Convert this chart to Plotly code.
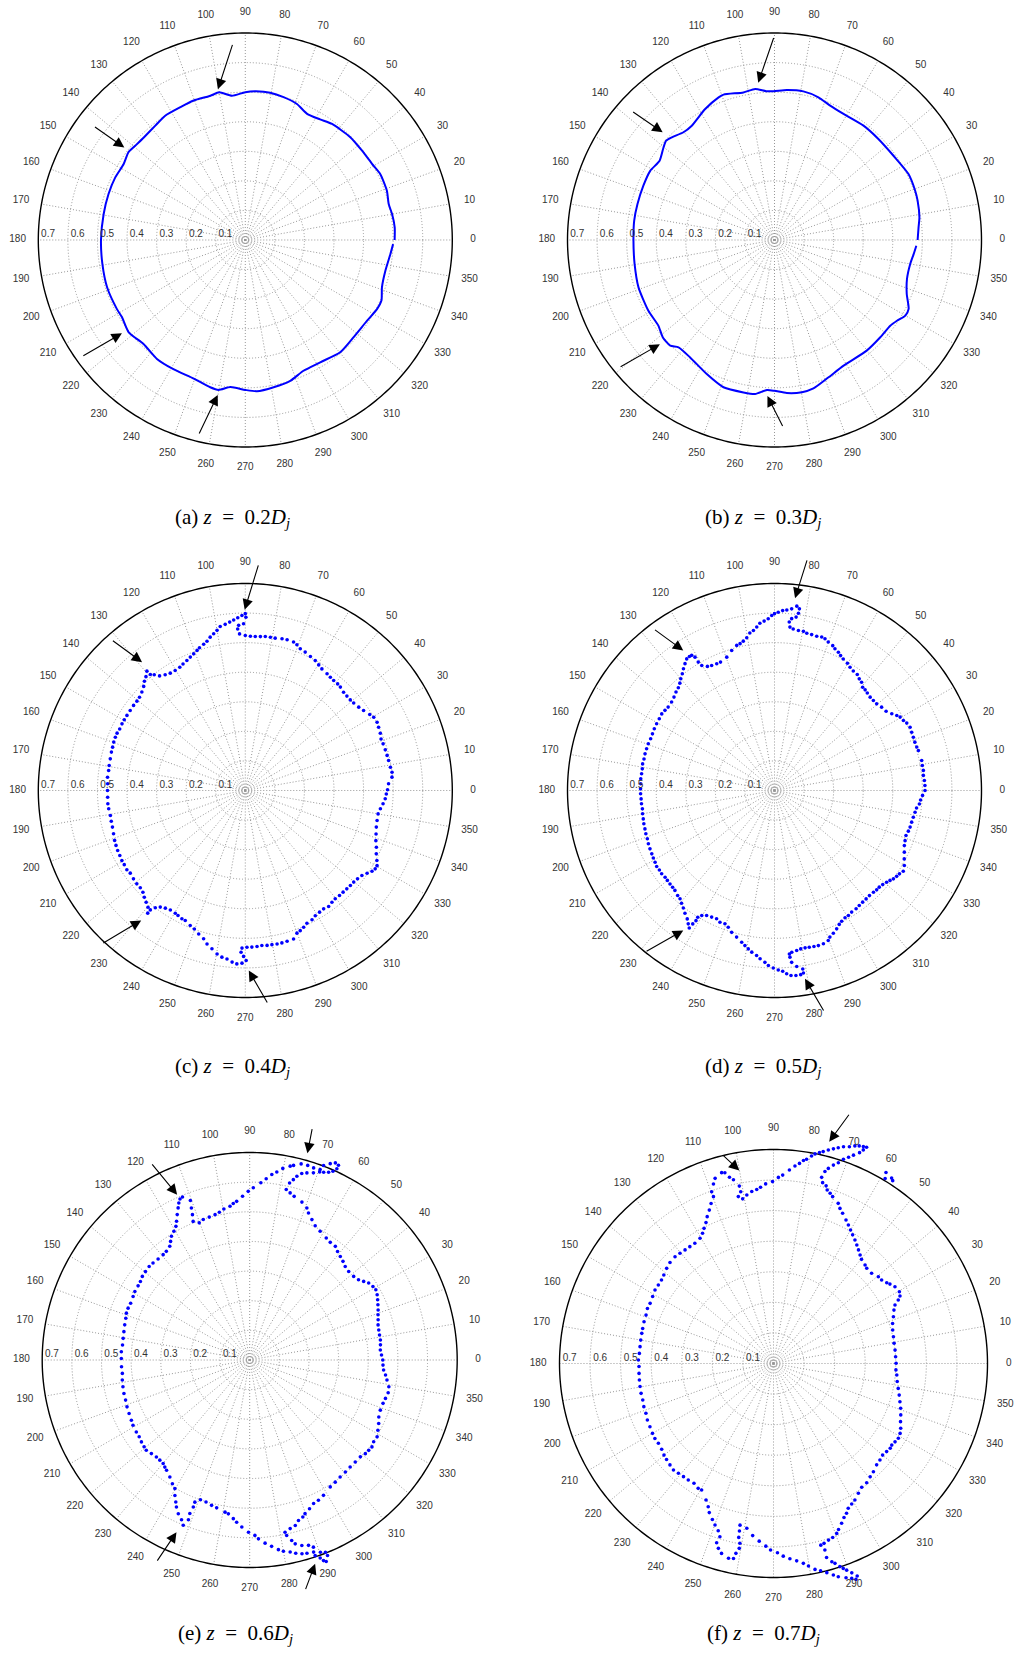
import math
import plotly.graph_objects as go

W, H = 1017, 1653
R_MAX = 0.7      # outer ring of every polar frame
R_VIEW = 0.79    # radial range kept visible so labels and outlying points show

# ---------------------------------------------------------------- axes / text
ANGLE_TICKS = list(range(0, 360, 10))
RADIAL_TICKS = [0.1, 0.2, 0.3, 0.4, 0.5, 0.6, 0.7]
CAPTIONS = [
    "(a) <i>z</i>&nbsp;&nbsp;=&nbsp;&nbsp;0.2<i>D<sub>j</sub></i>",
    "(b) <i>z</i>&nbsp;&nbsp;=&nbsp;&nbsp;0.3<i>D<sub>j</sub></i>",
    "(c) <i>z</i>&nbsp;&nbsp;=&nbsp;&nbsp;0.4<i>D<sub>j</sub></i>",
    "(d) <i>z</i>&nbsp;&nbsp;=&nbsp;&nbsp;0.5<i>D<sub>j</sub></i>",
    "(e) <i>z</i>&nbsp;&nbsp;=&nbsp;&nbsp;0.6<i>D<sub>j</sub></i>",
    "(f) <i>z</i>&nbsp;&nbsp;=&nbsp;&nbsp;0.7<i>D<sub>j</sub></i>",
]

# ---------------------------------------------------------------- boundary data
# (a) z = 0.2 Dj, continuous boundary
TH_A = [0, 4.8, 10, 14.1, 19.2, 26, 31, 37.4, 44.4, 53.2, 58.2, 63.9, 69.2, 75, 80.4, 85.9,
        90, 95.3, 100, 103.6, 110.3, 116, 122.8, 128.2, 134.7, 139.4, 143.1, 148, 154.3,
        161.4, 169.6, 180, 189.5, 198.9, 208.3, 212, 218.4, 225.6, 233.4, 240.9, 249.6,
        256.6, 259.9, 264.2, 270, 274.4, 280.9, 287.7, 294, 301.5, 310.2, 318, 326.5,
        332.3, 336, 340.9, 347.6, 354.5, 358.4]
R_A = [0.505, 0.507, 0.504, 0.500, 0.507, 0.508, 0.500, 0.497, 0.497, 0.490, 0.480, 0.475,
       0.492, 0.500, 0.505, 0.504, 0.500, 0.490, 0.507, 0.502, 0.503, 0.500, 0.500, 0.492,
       0.488, 0.490, 0.494, 0.485, 0.488, 0.488, 0.487, 0.488, 0.490, 0.494, 0.493, 0.492,
       0.503, 0.492, 0.501, 0.500, 0.500, 0.512, 0.515, 0.500, 0.507, 0.513, 0.507, 0.500,
       0.484, 0.485, 0.497, 0.492, 0.494, 0.503, 0.504, 0.489, 0.485, 0.493, 0.500]

# (b) z = 0.3 Dj, continuous boundary
TH_B = [0, 5, 8.9, 15.4, 19.3, 26.2, 35.3, 44.2, 52.1, 61.3, 67.5, 72.9, 79, 85.3, 90.4,
        93.2, 97.3, 101.9, 109.3, 111.4, 117.9, 125.9, 130.2, 135, 137.5, 140.1, 145.4,
        150.9, 157.5, 165.3, 172.2, 180, 189.7, 199.2, 209.3, 216.4, 221.1, 225.4, 228.2,
        234.3, 243.2, 250.9, 258.5, 262.8, 267.1, 270, 274.6, 280.2, 284.7, 291.5, 298.8,
        309.8, 317.4, 323.5, 326.6, 330, 332.8, 337.8, 343.6, 350, 354.2, 357.7]
R_B = [0.484, 0.489, 0.496, 0.502, 0.504, 0.505, 0.493, 0.490, 0.490, 0.486, 0.492, 0.505,
       0.512, 0.509, 0.503, 0.504, 0.515, 0.510, 0.521, 0.518, 0.501, 0.477, 0.477, 0.491,
       0.497, 0.489, 0.472, 0.481, 0.480, 0.479, 0.479, 0.477, 0.480, 0.487, 0.489, 0.488,
       0.501, 0.502, 0.487, 0.489, 0.508, 0.527, 0.526, 0.525, 0.508, 0.510, 0.519, 0.523,
       0.519, 0.499, 0.485, 0.487, 0.486, 0.487, 0.496, 0.511, 0.510, 0.483, 0.467, 0.466,
       0.473, 0.480]

# (c) z = 0.4 Dj, sampled boundary points
TH_C = [0.3, 2.7, 5.2, 7.1, 9.1, 11.8, 13.9, 16.2, 18.7, 20.8,
        23.0, 25.4, 27.4, 29.7, 31.4, 34.1, 36.3, 38.9, 40.8, 42.9,
        45.0, 47.4, 49.1, 51.2, 53.1, 55.0, 57.8, 59.7, 61.7, 64.1,
        66.6, 68.8, 70.5, 72.0, 74.5, 76.4, 78.9, 80.7, 82.6, 84.4,
        86.3, 88.1, 90.0, 92.1, 92.7, 92.3, 90.6, 89.8, 90.0, 91.1,
        92.5, 93.9, 95.3, 96.9, 98.7, 100.0, 101.4, 102.9, 104.4, 105.9,
        107.8, 109.0, 110.7, 112.4, 114.2, 116.2, 118.0, 120.3, 122.6, 124.7,
        126.8, 128.2, 129.3, 129.5, 131.1, 132.7, 134.3, 136.4, 138.6, 140.5,
        142.7, 145.2, 147.6, 149.7, 151.6, 153.9, 155.9, 157.7, 159.8, 161.9,
        164.0, 166.8, 169.6, 171.7, 174.5, 177.2, 180.0, 182.8, 185.5, 187.6,
        190.5, 192.9, 195.4, 198.2, 200.9, 203.0, 205.2, 207.4, 209.6, 211.5,
        213.8, 215.7, 218.3, 220.7, 222.8, 224.8, 226.6, 228.4, 230.2, 231.5,
        231.5, 232.5, 233.9, 235.8, 237.9, 240.3, 241.7, 243.7, 245.2, 247.8,
        249.8, 252.0, 254.3, 256.0, 258.1, 260.2, 262.0, 263.8, 265.6, 267.2,
        268.9, 270.3, 269.4, 268.5, 268.8, 270.6, 272.4, 274.3, 276.1, 278.0,
        279.8, 281.7, 283.5, 285.5, 288.0, 289.9, 291.4, 293.1, 294.9, 297.3,
        299.2, 301.4, 303.5, 305.7, 307.8, 309.7, 311.9, 313.9, 315.9, 317.9,
        319.8, 321.8, 323.9, 325.8, 327.5, 328.9, 330.3, 332.0, 334.2, 336.6,
        339.0, 341.6, 344.4, 347.2, 350.0, 352.3, 354.5, 356.6, 358.6]
R_C = [0.481, 0.485, 0.498, 0.500, 0.497, 0.495, 0.494, 0.493, 0.492, 0.491,
       0.496, 0.499, 0.502, 0.500, 0.493, 0.483, 0.476, 0.471, 0.469, 0.469,
       0.470, 0.475, 0.477, 0.477, 0.479, 0.482, 0.486, 0.492, 0.499, 0.504,
       0.510, 0.514, 0.523, 0.528, 0.529, 0.528, 0.525, 0.525, 0.525, 0.523,
       0.522, 0.522, 0.524, 0.530, 0.547, 0.559, 0.564, 0.586, 0.598, 0.592,
       0.585, 0.578, 0.572, 0.566, 0.561, 0.550, 0.541, 0.532, 0.521, 0.514,
       0.507, 0.501, 0.494, 0.488, 0.482, 0.477, 0.472, 0.470, 0.471, 0.476,
       0.484, 0.498, 0.507, 0.523, 0.511, 0.503, 0.492, 0.483, 0.477, 0.475,
       0.475, 0.474, 0.474, 0.474, 0.474, 0.473, 0.475, 0.475, 0.474, 0.472,
       0.471, 0.469, 0.468, 0.467, 0.468, 0.466, 0.466, 0.466, 0.467, 0.466,
       0.464, 0.465, 0.466, 0.469, 0.473, 0.475, 0.477, 0.478, 0.480, 0.480,
       0.482, 0.479, 0.482, 0.484, 0.484, 0.488, 0.497, 0.505, 0.514, 0.530,
       0.516, 0.500, 0.488, 0.481, 0.477, 0.478, 0.480, 0.484, 0.484, 0.493,
       0.499, 0.510, 0.521, 0.535, 0.547, 0.561, 0.569, 0.573, 0.582, 0.587,
       0.584, 0.575, 0.561, 0.547, 0.533, 0.530, 0.530, 0.529, 0.527, 0.529,
       0.529, 0.530, 0.530, 0.529, 0.528, 0.513, 0.509, 0.503, 0.495, 0.492,
       0.485, 0.482, 0.480, 0.483, 0.478, 0.476, 0.477, 0.477, 0.478, 0.479,
       0.480, 0.483, 0.488, 0.498, 0.508, 0.513, 0.513, 0.504, 0.492, 0.483,
       0.473, 0.466, 0.460, 0.457, 0.456, 0.461, 0.468, 0.474, 0.477]

# (d) z = 0.5 Dj, sampled boundary points
TH_D = [0.0, 1.9, 3.8, 5.8, 7.7, 9.6, 11.5, 15.5, 17.0, 19.0,
        21.0, 23.0, 25.0, 27.0, 28.5, 30.3, 31.5, 33.2, 35.4, 37.9,
        40.3, 42.3, 44.3, 46.4, 48.0, 49.5, 51.2, 52.8, 54.5, 56.6,
        58.5, 60.2, 62.4, 63.9, 65.2, 66.9, 68.1, 70.1, 71.6, 72.9,
        74.7, 76.6, 78.4, 79.7, 81.5, 83.4, 84.6, 85.0, 84.3, 82.9,
        82.3, 82.2, 83.1, 84.6, 86.1, 87.4, 88.8, 90.0, 90.9, 92.1,
        93.5, 95.0, 96.2, 97.5, 98.9, 100.3, 101.8, 103.2, 104.6, 107.0,
        109.7, 112.8, 114.5, 116.7, 118.4, 120.2, 120.7, 120.8, 121.5, 122.4,
        123.7, 125.2, 126.8, 128.3, 130.0, 131.4, 133.1, 135.0, 137.1, 139.3,
        141.9, 143.8, 145.8, 148.1, 150.5, 152.8, 155.1, 157.3, 159.7, 161.9,
        164.2, 166.4, 168.6, 170.7, 172.8, 175.0, 177.1, 179.3, 181.4, 183.6,
        185.7, 187.9, 190.0, 192.2, 194.3, 196.5, 198.6, 200.8, 202.9, 205.1,
        207.3, 209.1, 211.0, 212.8, 214.6, 216.4, 218.4, 220.0, 221.8, 223.5,
        225.1, 227.3, 228.9, 230.5, 232.2, 233.9, 235.8, 237.1, 238.2, 238.5,
        238.9, 238.8, 239.8, 241.5, 243.6, 245.7, 247.5, 249.6, 251.3, 253.2,
        255.5, 257.8, 259.2, 260.6, 262.0, 263.8, 265.1, 266.8, 268.0, 269.6,
        271.2, 272.6, 273.8, 275.1, 276.6, 278.1, 279.0, 279.0, 277.2, 275.7,
        275.3, 275.2, 276.1, 277.9, 279.4, 281.0, 282.5, 284.2, 285.8, 287.7,
        289.7, 290.7, 292.4, 294.2, 295.8, 297.2, 299.0, 300.6, 302.4, 304.6,
        306.4, 308.3, 310.2, 312.1, 314.2, 315.8, 317.3, 319.0, 320.7, 322.1,
        323.4, 324.9, 326.3, 327.9, 330.0, 332.2, 334.6, 337.0, 339.0, 341.1,
        343.1, 344.9, 347.0, 349.1, 351.2, 353.0, 354.7, 356.3, 358.1]
R_D = [0.509, 0.509, 0.508, 0.506, 0.508, 0.507, 0.508, 0.505, 0.503, 0.502,
       0.503, 0.504, 0.506, 0.502, 0.496, 0.492, 0.485, 0.474, 0.463, 0.459,
       0.453, 0.452, 0.452, 0.455, 0.458, 0.459, 0.470, 0.474, 0.482, 0.484,
       0.489, 0.496, 0.502, 0.508, 0.515, 0.521, 0.528, 0.534, 0.541, 0.543,
       0.541, 0.542, 0.543, 0.547, 0.547, 0.550, 0.555, 0.572, 0.584, 0.591,
       0.605, 0.620, 0.628, 0.617, 0.612, 0.609, 0.603, 0.598, 0.592, 0.581,
       0.574, 0.568, 0.556, 0.546, 0.539, 0.525, 0.516, 0.510, 0.507, 0.495,
       0.479, 0.471, 0.471, 0.473, 0.477, 0.489, 0.505, 0.525, 0.536, 0.537,
       0.535, 0.525, 0.514, 0.503, 0.493, 0.484, 0.476, 0.471, 0.464, 0.459,
       0.457, 0.459, 0.461, 0.459, 0.458, 0.457, 0.455, 0.454, 0.455, 0.455,
       0.455, 0.454, 0.455, 0.453, 0.453, 0.454, 0.453, 0.453, 0.453, 0.452,
       0.452, 0.451, 0.453, 0.454, 0.456, 0.457, 0.459, 0.460, 0.463, 0.465,
       0.467, 0.469, 0.471, 0.474, 0.473, 0.474, 0.472, 0.473, 0.474, 0.475,
       0.477, 0.483, 0.486, 0.494, 0.503, 0.514, 0.525, 0.537, 0.547, 0.529,
       0.514, 0.501, 0.489, 0.481, 0.478, 0.476, 0.482, 0.481, 0.488, 0.501,
       0.512, 0.525, 0.534, 0.543, 0.552, 0.561, 0.571, 0.582, 0.592, 0.600,
       0.607, 0.612, 0.621, 0.628, 0.630, 0.629, 0.625, 0.611, 0.600, 0.584,
       0.566, 0.555, 0.550, 0.546, 0.543, 0.542, 0.543, 0.544, 0.545, 0.544,
       0.539, 0.530, 0.522, 0.513, 0.503, 0.497, 0.492, 0.491, 0.487, 0.486,
       0.483, 0.481, 0.480, 0.479, 0.480, 0.482, 0.482, 0.485, 0.490, 0.495,
       0.501, 0.505, 0.508, 0.514, 0.507, 0.496, 0.486, 0.477, 0.473, 0.470,
       0.473, 0.475, 0.476, 0.478, 0.481, 0.484, 0.492, 0.495, 0.501]

# (e) z = 0.6 Dj, sampled boundary points
TH_E = [328.9, 331.3, 333.8, 336.2, 339.0, 342.0, 344.2, 346.7, 349.1, 351.7,
        353.7, 355.7, 357.8, 0.0, 2.2, 4.4, 6.6, 8.7, 10.9, 13.1,
        15.3, 17.4, 19.4, 21.3, 23.3, 25.2, 27.1, 29.1, 30.8, 32.9,
        34.6, 36.4, 38.8, 41.8, 44.4, 46.6, 48.8, 51.0, 53.0, 55.6,
        57.9, 61.3, 64.0, 66.1, 68.2, 69.4, 71.7, 74.8, 76.4, 77.9,
        77.3, 76.4, 75.6, 74.4, 73.0, 71.2, 69.6, 68.5, 67.2, 66.2,
        65.5, 65.5, 66.5, 67.7, 69.2, 69.7, 71.6, 73.4, 75.3, 77.3,
        78.2, 80.2, 81.8, 83.2, 84.8, 86.4, 88.8, 90.5, 92.5, 94.7,
        96.0, 97.3, 99.7, 101.6, 103.4, 105.8, 108.3, 110.2, 112.2, 111.5,
        111.0, 110.4, 112.4, 113.4, 114.3, 115.2, 116.5, 117.8, 118.9, 120.5,
        122.3, 123.7, 125.1, 127.5, 129.4, 132.2, 134.9, 137.1, 139.7, 142.1,
        144.3, 146.4, 149.2, 151.4, 154.5, 156.9, 159.2, 161.4, 164.3, 167.3,
        170.3, 173.3, 176.3, 179.3, 183.0, 186.0, 188.9, 191.9, 194.9, 197.9,
        200.9, 203.9, 207.0, 209.2, 212.4, 214.8, 217.1, 219.4, 221.1, 223.6,
        226.1, 228.1, 230.1, 231.6, 233.0, 235.7, 238.0, 239.8, 241.1, 242.5,
        243.5, 245.1, 246.9, 248.1, 249.0, 248.7, 249.0, 248.9, 250.6, 252.9,
        255.3, 257.4, 260.8, 262.1, 264.1, 265.4, 267.3, 269.6, 271.7, 272.8,
        274.8, 276.7, 278.6, 280.0, 281.9, 283.4, 285.1, 286.5, 288.4, 288.5,
        289.6, 290.2, 290.8, 291.7, 291.5, 290.2, 288.8, 287.6, 285.7, 283.9,
        283.1, 281.9, 281.6, 283.5, 285.4, 286.9, 288.7, 289.8, 291.9, 294.0,
        296.1, 298.6, 302.4, 305.0, 307.7, 310.5, 313.2, 316.0, 318.8, 321.0,
        322.8, 324.6, 326.6]
R_E = [0.502, 0.493, 0.485, 0.476, 0.472, 0.473, 0.476, 0.480, 0.478, 0.468,
       0.461, 0.453, 0.450, 0.449, 0.445, 0.442, 0.444, 0.446, 0.446, 0.447,
       0.449, 0.454, 0.459, 0.465, 0.471, 0.477, 0.483, 0.487, 0.484, 0.478,
       0.467, 0.456, 0.450, 0.448, 0.451, 0.458, 0.464, 0.471, 0.480, 0.481,
       0.486, 0.495, 0.504, 0.518, 0.534, 0.548, 0.561, 0.572, 0.580, 0.588,
       0.612, 0.626, 0.640, 0.653, 0.660, 0.667, 0.677, 0.681, 0.687, 0.696,
       0.709, 0.722, 0.725, 0.716, 0.702, 0.685, 0.683, 0.685, 0.684, 0.673,
       0.668, 0.656, 0.641, 0.630, 0.614, 0.599, 0.581, 0.569, 0.553, 0.537,
       0.531, 0.523, 0.517, 0.509, 0.504, 0.501, 0.499, 0.493, 0.505, 0.527,
       0.549, 0.574, 0.595, 0.592, 0.581, 0.567, 0.548, 0.529, 0.515, 0.504,
       0.494, 0.481, 0.469, 0.462, 0.460, 0.460, 0.462, 0.463, 0.461, 0.459,
       0.454, 0.452, 0.451, 0.448, 0.445, 0.446, 0.445, 0.441, 0.438, 0.435,
       0.433, 0.432, 0.434, 0.433, 0.433, 0.432, 0.435, 0.437, 0.439, 0.440,
       0.443, 0.445, 0.448, 0.451, 0.453, 0.454, 0.458, 0.461, 0.463, 0.458,
       0.454, 0.454, 0.455, 0.461, 0.466, 0.478, 0.492, 0.502, 0.522, 0.540,
       0.554, 0.572, 0.586, 0.601, 0.577, 0.556, 0.531, 0.514, 0.500, 0.501,
       0.507, 0.511, 0.520, 0.524, 0.538, 0.549, 0.564, 0.581, 0.592, 0.604,
       0.620, 0.633, 0.647, 0.655, 0.662, 0.670, 0.677, 0.680, 0.683, 0.696,
       0.709, 0.721, 0.727, 0.710, 0.697, 0.691, 0.667, 0.656, 0.650, 0.639,
       0.625, 0.605, 0.593, 0.585, 0.579, 0.566, 0.559, 0.551, 0.541, 0.530,
       0.527, 0.520, 0.507, 0.503, 0.499, 0.497, 0.495, 0.495, 0.496, 0.502,
       0.504, 0.506, 0.501]

# (f) z = 0.7 Dj, sampled boundary points
TH_F = [333.0, 335.4, 338.0, 340.6, 343.2, 345.9, 348.7, 351.7, 354.7, 357.0,
        0.1, 3.2, 6.3, 9.5, 12.6, 15.7, 18.6, 21.3, 23.9, 25.7,
        27.0, 28.1, 29.7, 32.3, 34.3, 35.5, 37.7, 39.6, 42.6, 45.6,
        47.1, 49.8, 51.4, 53.2, 54.9, 56.6, 58.4, 60.0, 61.6, 63.2,
        65.3, 66.8, 68.0, 70.5, 71.6, 72.8, 73.5, 74.8, 75.5, 75.0,
        74.3, 73.2, 72.1, 71.1, 70.0, 69.0, 67.8, 67.2, 66.7, 67.5,
        68.5, 69.5, 70.7, 72.1, 73.3, 74.4, 75.6, 76.8, 77.7, 78.8,
        79.6, 80.8, 81.6, 82.6, 83.8, 85.3, 87.2, 88.5, 90.3, 92.5,
        94.2, 95.5, 97.2, 99.0, 100.6, 101.9, 100.8, 100.9, 102.3, 103.3,
        104.3, 105.2, 107.5, 108.5, 109.8, 109.8, 111.3, 112.7, 114.3, 115.6,
        117.2, 118.6, 120.4, 123.2, 125.6, 127.9, 130.3, 132.7, 135.7, 138.3,
        141.1, 143.3, 145.7, 148.2, 151.0, 154.0, 156.4, 159.2, 162.1, 165.0,
        167.1, 170.0, 172.8, 175.7, 178.5, 181.3, 184.2, 187.0, 189.8, 192.7,
        195.6, 198.4, 201.3, 204.1, 207.1, 210.0, 212.3, 214.7, 217.5, 219.9,
        221.9, 224.4, 226.8, 229.1, 231.5, 233.8, 236.4, 238.9, 240.4, 243.7,
        245.5, 246.7, 248.6, 250.1, 251.7, 252.8, 252.4, 253.4, 254.7, 257.0,
        258.4, 258.8, 259.5, 259.4, 258.7, 258.5, 258.3, 260.8, 263.1, 265.4,
        267.6, 269.1, 271.2, 272.9, 274.8, 276.7, 278.5, 279.8, 281.4, 282.8,
        284.3, 285.8, 286.9, 288.7, 290.0, 290.9, 291.5, 290.5, 289.5, 288.8,
        288.1, 287.1, 286.4, 285.3, 285.4, 284.6, 285.7, 287.3, 288.8, 290.4,
        291.4, 293.1, 294.6, 296.0, 297.3, 299.1, 300.8, 303.2, 305.5, 308.0,
        310.5, 312.7, 315.5, 317.8, 320.0, 322.1, 324.0, 325.4, 327.2, 329.1,
        331.1, 59.5, 58.9, 57.5, 56.9]
R_F = [0.467, 0.457, 0.449, 0.441, 0.432, 0.424, 0.416, 0.409, 0.405, 0.401,
       0.401, 0.400, 0.400, 0.400, 0.402, 0.405, 0.411, 0.421, 0.431, 0.441,
       0.458, 0.469, 0.474, 0.470, 0.461, 0.455, 0.447, 0.445, 0.436, 0.436,
       0.440, 0.446, 0.454, 0.464, 0.474, 0.484, 0.494, 0.504, 0.515, 0.526,
       0.541, 0.552, 0.565, 0.579, 0.587, 0.594, 0.606, 0.613, 0.629, 0.650,
       0.663, 0.678, 0.690, 0.706, 0.718, 0.730, 0.745, 0.758, 0.770, 0.768,
       0.765, 0.760, 0.751, 0.745, 0.737, 0.729, 0.721, 0.712, 0.706, 0.699,
       0.690, 0.677, 0.671, 0.660, 0.650, 0.635, 0.617, 0.609, 0.595, 0.588,
       0.578, 0.572, 0.567, 0.558, 0.548, 0.558, 0.572, 0.591, 0.615, 0.626,
       0.644, 0.647, 0.635, 0.619, 0.597, 0.580, 0.562, 0.544, 0.527, 0.511,
       0.497, 0.485, 0.475, 0.470, 0.470, 0.471, 0.473, 0.475, 0.473, 0.468,
       0.461, 0.457, 0.456, 0.456, 0.452, 0.449, 0.450, 0.446, 0.445, 0.443,
       0.442, 0.441, 0.440, 0.440, 0.442, 0.440, 0.441, 0.442, 0.443, 0.444,
       0.444, 0.447, 0.448, 0.452, 0.454, 0.457, 0.459, 0.458, 0.461, 0.467,
       0.470, 0.474, 0.478, 0.475, 0.473, 0.472, 0.470, 0.477, 0.476, 0.498,
       0.515, 0.531, 0.548, 0.562, 0.576, 0.593, 0.615, 0.631, 0.644, 0.654,
       0.651, 0.633, 0.615, 0.598, 0.580, 0.559, 0.540, 0.546, 0.567, 0.583,
       0.598, 0.610, 0.619, 0.631, 0.641, 0.650, 0.661, 0.672, 0.687, 0.695,
       0.706, 0.719, 0.729, 0.740, 0.748, 0.756, 0.747, 0.731, 0.717, 0.708,
       0.699, 0.684, 0.676, 0.658, 0.633, 0.614, 0.611, 0.605, 0.601, 0.593,
       0.583, 0.568, 0.554, 0.545, 0.533, 0.526, 0.520, 0.507, 0.497, 0.495,
       0.487, 0.482, 0.473, 0.470, 0.466, 0.469, 0.472, 0.470, 0.473, 0.476,
       0.473, 0.725, 0.707, 0.719, 0.714]

# arrows marking boundary features: (theta_tip, r_tip, theta_tail, r_tail)
ARROWS = [
    [(100.3, 0.518, 93.6, 0.666), (142.6, 0.515, 143.1, 0.642),
     (217.1, 0.523, 215.5, 0.679), (259.9, 0.532, 256.5, 0.678)],
    [(95.9, 0.535, 90.1, 0.688), (136.1, 0.525, 137.9, 0.651),
     (222.3, 0.524, 219.4, 0.680), (267.4, 0.528, 272.7, 0.635)],
    [(90.2, 0.611, 86.6, 0.768), (128.8, 0.557, 131.6, 0.682),
     (231.3, 0.563, 226.9, 0.710), (271.1, 0.609, 276.1, 0.726)],
    [(83.9, 0.654, 81.9, 0.791), (123.1, 0.565, 126.8, 0.683),
     (236.9, 0.565, 231.3, 0.700), (279.2, 0.645, 282.7, 0.768)],
    [(74.4, 0.724, 74.9, 0.812), (113.7, 0.609, 116.6, 0.744),
     (246.96, 0.631, 245.2, 0.751), (287.8, 0.722, 283.5, 0.800)],
    [(75.9, 0.748, 73.0, 0.856), (100.05, 0.641, 103.9, 0.706)],
]

SERIES = [(TH_A, R_A, "lines"), (TH_B, R_B, "lines"), (TH_C, R_C, "markers"),
          (TH_D, R_D, "markers"), (TH_E, R_E, "markers"), (TH_F, R_F, "markers")]
for th, rr, _ in SERIES:
    assert len(th) == len(rr)

# ---------------------------------------------------------------- page layout
# centre (px) and outer-ring radius (px) of each polar frame
FRAMES = [(245.3, 240.0, 207.0), (774.5, 240.0, 207.0),
          (245.3, 790.5, 207.0), (774.5, 790.5, 207.0),
          (249.7, 1360.0, 207.5), (773.5, 1363.5, 214.0)]
CAPTION_XY = [(232, 518), (763, 518), (232, 1067), (763, 1067), (235, 1634), (763, 1634)]

BLUE = "#0000ff"
GRID = "rgb(150,150,150)"
DOTTED = "1px,2px"
LABEL_FONT = dict(family="Liberation Sans, Arial, sans-serif", size=10, color="#333333")

# spokes every 10 degrees, from the pole to the outer ring
SPOKE_R, SPOKE_T = [], []
for a in ANGLE_TICKS:
    SPOKE_R += [0, R_MAX, None]
    SPOKE_T += [a, a, None]
RING_T = list(range(0, 361, 1))


def to_px(frame, theta, r):
    cx, cy, rad = frame
    k = rad * r / R_MAX
    t = math.radians(theta)
    return cx + k * math.cos(t), cy - k * math.sin(t)


fig = go.Figure()
annotations = []

for i, ((th, rr, mode), frame) in enumerate(zip(SERIES, FRAMES)):
    sub = "polar" if i == 0 else f"polar{i + 1}"
    cx, cy, rad = frame
    half = rad * R_VIEW / R_MAX
    fig.update_layout({sub: dict(
        domain=dict(x=[(cx - half) / W, (cx + half) / W],
                    y=[1 - (cy + half) / H, 1 - (cy - half) / H]),
        bgcolor="rgba(0,0,0,0)",
        radialaxis=dict(range=[0, R_VIEW], tickmode="array", tickvals=RADIAL_TICKS[:-1],
                        showticklabels=False, ticks="", showline=False,
                        gridcolor=GRID, gridwidth=1, griddash=DOTTED),
        angularaxis=dict(direction="counterclockwise", rotation=0, thetaunit="degrees",
                         showticklabels=False, ticks="", showline=False, showgrid=False),
    )})

    # spokes and solid outer ring
    fig.add_trace(go.Scatterpolar(r=SPOKE_R, theta=SPOKE_T, mode="lines", subplot=sub,
                                  line=dict(color=GRID, width=1, dash=DOTTED),
                                  hoverinfo="skip"))
    fig.add_trace(go.Scatterpolar(r=[R_MAX] * len(RING_T), theta=RING_T, mode="lines",
                                  subplot=sub, line=dict(color="black", width=1.4),
                                  hoverinfo="skip"))

    # boundary of the jet cross-section
    if mode == "lines":
        fig.add_trace(go.Scatterpolar(r=rr, theta=th, mode="lines", subplot=sub,
                                      line=dict(color=BLUE, width=2, shape="spline",
                                                smoothing=0.6),
                                      cliponaxis=False, hoverinfo="skip"))
    else:
        fig.add_trace(go.Scatterpolar(r=rr, theta=th, mode="markers", subplot=sub,
                                      marker=dict(color=BLUE, size=3.6, line=dict(width=0)),
                                      cliponaxis=False, hoverinfo="skip"))

    # angle labels just outside the outer ring
    fig.add_trace(go.Scatterpolar(r=[R_MAX * 1.1] * len(ANGLE_TICKS), theta=ANGLE_TICKS,
                                  text=[str(a) for a in ANGLE_TICKS], mode="text",
                                  textfont=LABEL_FONT, subplot=sub, cliponaxis=False,
                                  hoverinfo="skip"))
    # radius labels along the 180 degree spoke
    fig.add_trace(go.Scatterpolar(r=[v - 0.033 for v in RADIAL_TICKS],
                                  theta=[180] * len(RADIAL_TICKS),
                                  text=[f"{v:.1f}" for v in RADIAL_TICKS], mode="text",
                                  textposition="top center", textfont=LABEL_FONT,
                                  subplot=sub, cliponaxis=False, hoverinfo="skip"))

    # feature arrows
    for t_tip, r_tip, t_tail, r_tail in ARROWS[i]:
        x0, y0 = to_px(frame, t_tip, r_tip)
        x1, y1 = to_px(frame, t_tail, r_tail)
        annotations.append(dict(x=x0 / W, y=1 - y0 / H, xref="paper", yref="paper",
                                ax=x1 - x0, ay=y1 - y0, axref="pixel", ayref="pixel",
                                text="", showarrow=True, arrowhead=2, arrowsize=1.9,
                                arrowwidth=1.1, arrowcolor="black", standoff=0))

    # caption
    tx, ty = CAPTION_XY[i]
    annotations.append(dict(x=tx / W, y=1 - ty / H, xref="paper", yref="paper",
                            text=CAPTIONS[i], showarrow=False, xanchor="center",
                            yanchor="middle",
                            font=dict(family="Liberation Serif, Times New Roman, serif",
                                      size=21, color="black")))

fig.update_layout(width=W, height=H, margin=dict(l=0, r=0, t=0, b=0),
                  paper_bgcolor="white", plot_bgcolor="white", showlegend=False,
                  annotations=annotations)

fig.write_html("out.html")
